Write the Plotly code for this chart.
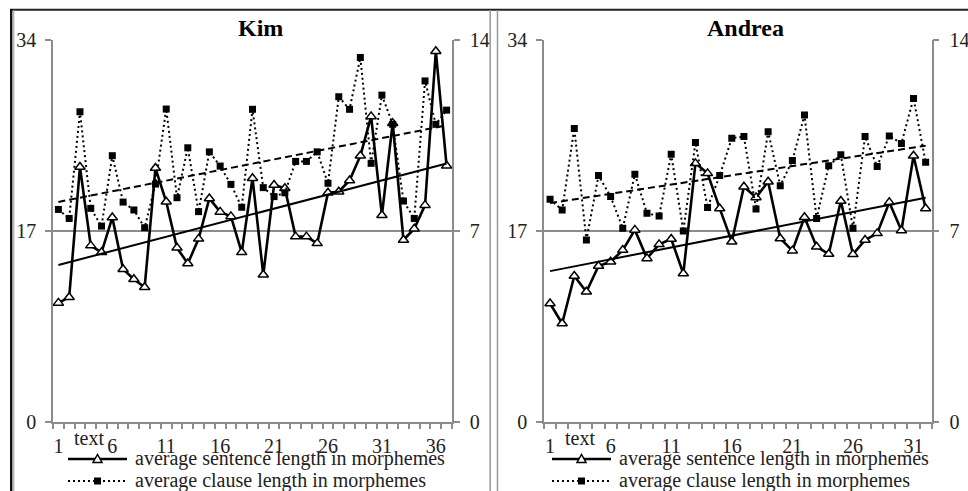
import numpy as np
import plotly.graph_objects as go

# ---------------- data ----------------
kim_sentence = [10.6, 11.1, 22.7, 15.7, 15.1, 18.2, 13.6, 12.7, 12.0, 22.6, 19.6, 15.5, 14.1,
                16.3, 19.9, 18.7, 18.3, 15.1, 21.7, 13.1, 21.1, 20.8, 16.5, 16.5, 15.9, 20.4,
                20.5, 21.5, 23.7, 27.2, 18.4, 26.6, 16.2, 17.2, 19.3, 33.0, 22.8]
kim_clause = [7.79, 7.46, 11.37, 7.83, 7.18, 9.76, 8.06, 7.77, 7.12, 8.72, 11.47, 8.22, 10.05,
              7.71, 9.90, 9.38, 8.71, 7.87, 11.46, 8.59, 8.26, 8.40, 9.55, 9.55, 9.90, 8.75,
              11.92, 11.46, 13.36, 9.48, 11.98, 10.91, 8.10, 7.46, 12.50, 10.91, 11.43]
andrea_sentence = [10.55, 8.77, 12.99, 11.59, 13.88, 14.26, 15.30, 17.1, 14.56, 15.81, 16.29,
                   13.22, 23.02, 22.13, 19.01, 16.05, 20.94, 19.99, 21.39, 16.34, 15.25, 18.22,
                   15.60, 14.95, 19.67, 14.92, 16.20, 16.79, 19.55, 17.05, 23.70, 19.01]
andrea_clause = [8.16, 7.77, 10.76, 6.67, 9.03, 8.26, 7.10, 9.08, 7.65, 7.55, 9.81, 7.0, 10.24,
                 7.86, 9.03, 10.40, 10.46, 7.81, 10.64, 8.66, 9.58, 11.25, 7.46, 9.39, 9.79,
                 7.10, 10.46, 9.36, 10.48, 10.21, 11.86, 9.52]

panel_titles = ["Kim", "Andrea"]
left_ticks = [0, 17, 34]
right_ticks = [0, 7, 14]
x_label = "text"
sent_name = "average sentence length in morphemes"
clause_name = "average clause length in morphemes"

W, H = 968, 491
FONT = "Liberation Serif"
GRID = "#8c8c8c"
TXT = "#222222"

fig = go.Figure()


def px(x):
    return x / W


def py(y):
    return (H - y) / H


panels = [
    dict(title=panel_titles[0], s=kim_sentence, c=kim_clause, x0=53, x1=452,
         xa="x", ya="y", ya2="y2", lx=68),
    dict(title=panel_titles[1], s=andrea_sentence, c=andrea_clause, x0=544, x1=931.7,
         xa="x2", ya="y3", ya2="y4", lx=552),
]

layout_axes = {}
shapes = []
for i, p in enumerate(panels):
    n = len(p["s"])
    xs = list(range(1, n + 1))
    fig.add_trace(go.Scatter(
        x=xs, y=p["c"], xaxis=p["xa"], yaxis=p["ya2"], mode="lines+markers",
        name=clause_name, showlegend=False,
        line=dict(color="black", width=2, dash="2px,3px"),
        marker=dict(symbol="square", size=7, color="black")))
    fig.add_trace(go.Scatter(
        x=xs, y=p["s"], xaxis=p["xa"], yaxis=p["ya"], mode="lines+markers",
        name=sent_name, showlegend=False,
        line=dict(color="black", width=2.6),
        marker=dict(symbol="triangle-up", size=9, color="white",
                    line=dict(color="black", width=1.5))))
    xa = np.array(xs, dtype=float)
    ks, bs = np.polyfit(xa, np.array(p["s"]), 1)
    kc, bc = np.polyfit(xa, np.array(p["c"]), 1)
    fig.add_trace(go.Scatter(
        x=[1, n], y=[ks * 1 + bs, ks * n + bs], xaxis=p["xa"], yaxis=p["ya"],
        mode="lines", showlegend=False, line=dict(color="black", width=2)))
    fig.add_trace(go.Scatter(
        x=[1, n], y=[kc * 1 + bc, kc * n + bc], xaxis=p["xa"], yaxis=p["ya2"],
        mode="lines", showlegend=False, line=dict(color="black", width=2, dash="7px,4px")))

    dom_x = [px(p["x0"]), px(p["x1"])]
    dom_y = [py(422), py(40)]
    xkey = "xaxis" if p["xa"] == "x" else "xaxis2"
    ykey = "yaxis" if p["ya"] == "y" else "yaxis3"
    y2key = "yaxis2" if p["ya2"] == "y2" else "yaxis4"
    layout_axes[xkey] = dict(
        domain=dom_x, range=[0.5, n + 0.5], anchor=p["ya"], automargin=False,
        tickmode="array", tickvals=list(range(1, n + 1, 5)),
        ticks="outside", ticklen=5, tickcolor="rgba(0,0,0,0)",
        minor=dict(ticks="outside", ticklen=5, tickcolor=GRID, tickwidth=1.5,
                   dtick=1, tick0=0.5, showgrid=False),
        showline=True, linecolor=GRID, linewidth=1.5, showgrid=False, zeroline=False,
        tickfont=dict(family=FONT, size=20, color=TXT), ticklabelstandoff=0)
    layout_axes[ykey] = dict(
        domain=dom_y, range=[0, 34], anchor=p["xa"], tickmode="array", tickvals=left_ticks,
        automargin=False,
        ticks="outside", ticklen=6, tickcolor=GRID, tickwidth=1.5,
        showline=True, linecolor=GRID, linewidth=1.5,
        showgrid=True, gridcolor=GRID, gridwidth=1.5, zeroline=False,
        tickfont=dict(family=FONT, size=20, color=TXT), ticklabelstandoff=5)
    layout_axes[y2key] = dict(
        domain=dom_y, range=[0, 14], anchor=p["xa"], overlaying=p["ya"], side="right",
        tickmode="array", tickvals=right_ticks, automargin=False,
        ticks="outside", ticklen=6, tickcolor=GRID, tickwidth=1.5,
        showline=True, linecolor=GRID, linewidth=1.5,
        showgrid=False, zeroline=False,
        tickfont=dict(family=FONT, size=20, color=TXT), ticklabelstandoff=6)

    cx = (p["x0"] + p["x1"]) / 2
    fig.add_annotation(x=px(cx + 8), y=py(28), xref="paper", yref="paper",
                       text="<b>%s</b>" % p["title"],
                       showarrow=False, font=dict(family=FONT, size=24, color="black"),
                       xanchor="center", yanchor="middle")
    fig.add_annotation(x=px(p["x0"] + 36), y=py(438), xref="paper", yref="paper", text=x_label,
                       showarrow=False, font=dict(family=FONT, size=20, color=TXT),
                       xanchor="center", yanchor="middle")

    lx0, lx1 = p["lx"], p["lx"] + 59
    mx = (lx0 + lx1) / 2
    r1, r2 = 459, 481
    shapes.append(dict(type="line", xref="paper", yref="paper", x0=px(lx0), x1=px(lx1),
                       y0=py(r1), y1=py(r1), line=dict(color="black", width=2.6)))
    shapes.append(dict(type="path", xref="paper", yref="paper",
                       path="M %f %f L %f %f L %f %f Z" % (px(mx - 4.5), py(r1 + 3.5), px(mx + 4.5), py(r1 + 3.5),
                                                         px(mx), py(r1 - 4.5)),
                       fillcolor="white", line=dict(color="black", width=1.5)))
    shapes.append(dict(type="line", xref="paper", yref="paper", x0=px(lx0), x1=px(lx1),
                       y0=py(r2), y1=py(r2), line=dict(color="black", width=2, dash="2px,3px")))
    shapes.append(dict(type="rect", xref="paper", yref="paper", x0=px(mx - 3.5), x1=px(mx + 3.5),
                       y0=py(r2 + 3.5), y1=py(r2 - 3.5), fillcolor="black", line=dict(width=0)))
    fig.add_annotation(x=px(lx1 + 6), y=py(r1 - 1), xref="paper", yref="paper", text=sent_name,
                       showarrow=False, font=dict(family=FONT, size=20, color=TXT),
                       xanchor="left", yanchor="middle")
    fig.add_annotation(x=px(lx1 + 6), y=py(r2 - 1), xref="paper", yref="paper", text=clause_name,
                       showarrow=False, font=dict(family=FONT, size=20, color=TXT),
                       xanchor="left", yanchor="middle")

shapes += [
    dict(type="line", xref="paper", yref="paper", x0=px(10), x1=1, y0=py(9.8), y1=py(9.8),
         line=dict(color="#222222", width=2)),
    dict(type="line", xref="paper", yref="paper", x0=px(11.2), x1=px(11.2), y0=py(9), y1=0,
         line=dict(color="#111111", width=2.4)),
    dict(type="line", xref="paper", yref="paper", x0=px(13.8), x1=px(13.8), y0=py(10), y1=0,
         line=dict(color="#999999", width=1)),
    dict(type="line", xref="paper", yref="paper", x0=px(490.2), x1=px(490.2), y0=py(10), y1=0,
         line=dict(color="#999999", width=1.5)),
    dict(type="line", xref="paper", yref="paper", x0=px(497.5), x1=px(497.5), y0=py(10), y1=0,
         line=dict(color="#999999", width=1.5)),
]

fig.update_layout(
    width=W, height=H, margin=dict(l=0, r=0, t=0, b=0, pad=0, autoexpand=False),
    paper_bgcolor="white", plot_bgcolor="white",
    showlegend=False, shapes=shapes,
    font=dict(family=FONT, size=20, color=TXT),
    **layout_axes)

fig.write_html("out.html")
